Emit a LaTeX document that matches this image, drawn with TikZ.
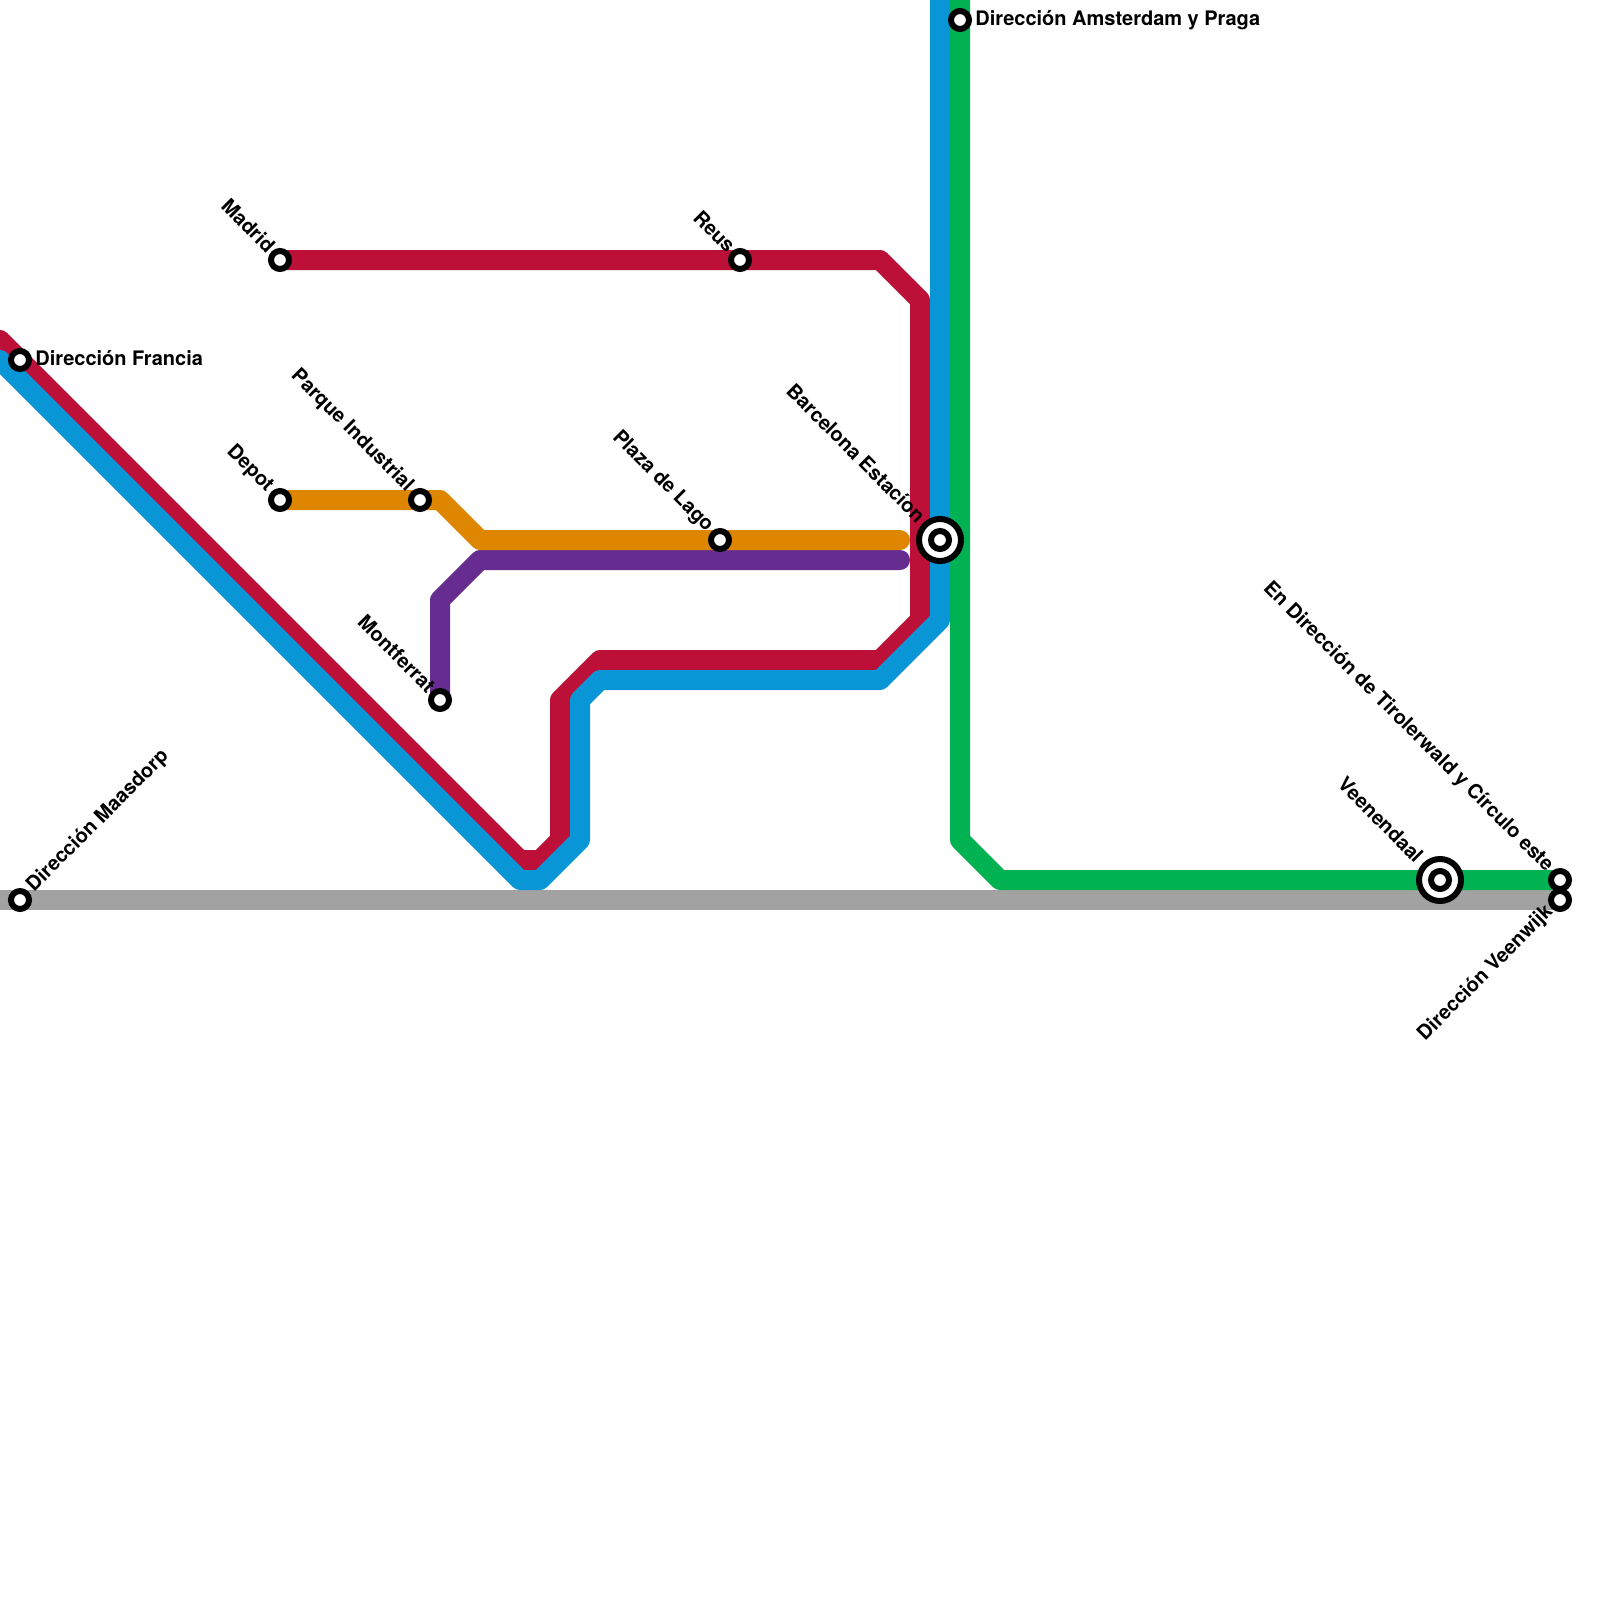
\documentclass[tikz,border=0pt]{standalone}
\usepackage{fontspec}
\setmainfont{TeX Gyre Heros}
\usetikzlibrary{backgrounds}
\definecolor{lred}{HTML}{BD1038}
\definecolor{lblue}{HTML}{0896D7}
\definecolor{lgreen}{HTML}{00B251}
\definecolor{lgrey}{HTML}{A2A2A2}
\definecolor{lorange}{HTML}{DF8600}
\definecolor{lpurple}{HTML}{662C90}
\tikzset{
  metro/.style={line width=10pt,line cap=round,line join=round},
  stop/.style={circle,draw=black,fill=white,line width=3pt,minimum size=9pt,inner sep=0pt},
  hubout/.style={circle,draw=black,fill=white,line width=3pt,minimum size=21pt,inner sep=0pt},
  lab/.style={inner sep=0pt,font=\fontsize{10}{12}\selectfont\bfseries},
  labnw/.style={lab,rotate=-45,anchor=east},
  labne/.style={lab,rotate=45,anchor=west},
  labsw/.style={lab,rotate=45,anchor=east},
  labe/.style={lab,anchor=west},
}
\begin{document}
\begin{tikzpicture}[x=0.5pt,y=-0.5pt]
\path[use as bounding box,clip] (0,0) rectangle (1600,1600);
% stations
\node[stop] (francia) at (20,360) {};
\node[stop] (maasdorp) at (20,900) {};
\node[stop] (madrid) at (280,260) {};
\node[stop] (depot) at (280,500) {};
\node[stop] (parque) at (420,500) {};
\node[stop] (montferrat) at (440,700) {};
\node[stop] (lago) at (720,540) {};
\node[stop] (reus) at (740,260) {};
\node[stop] (amsterdam) at (960,20) {};
\node[stop] (tirol) at (1560,880) {};
\node[stop] (veenwijk) at (1560,900) {};
\node[hubout] (barcelona) at (940,540) {};
\node[stop] (barcelonain) at (940,540) {};
\node[hubout] (veenendaal) at (1440,880) {};
\node[stop] (veenendaalin) at (1440,880) {};
% free ends and bends
\coordinate (r0) at (0,340);
\coordinate (r1) at (520,860);
\coordinate (r2) at (540,860);
\coordinate (r3) at (560,840);
\coordinate (r4) at (560,700);
\coordinate (r5) at (600,660);
\coordinate (r6) at (880,660);
\coordinate (r7) at (920,620);
\coordinate (r8) at (920,300);
\coordinate (r9) at (880,260);
\coordinate (b0) at (0,360);
\coordinate (b1) at (520,880);
\coordinate (b2) at (540,880);
\coordinate (b3) at (580,840);
\coordinate (b4) at (580,700);
\coordinate (b5) at (600,680);
\coordinate (b6) at (880,680);
\coordinate (b7) at (940,620);
\coordinate (b8) at (940,0);
\coordinate (g0) at (960,0);
\coordinate (g1) at (960,840);
\coordinate (g2) at (1000,880);
\coordinate (o1) at (440,500);
\coordinate (o2) at (480,540);
\coordinate (o3) at (900,540);
\coordinate (p1) at (440,600);
\coordinate (p2) at (480,560);
\coordinate (p3) at (900,560);
\coordinate (y0) at (0,900);
\begin{pgfonlayer}{background}
\draw[metro,lgrey] (y0) -- (maasdorp.center) -- (veenwijk.center);
\draw[metro,lgreen] (g0) -- (amsterdam.center) -- (g1) -- (g2) -- (veenendaal.center) -- (tirol.center);
\draw[metro,lred] (r0) -- (r1) -- (r2) -- (r3) -- (r4) -- (r5) -- (r6) -- (r7) -- (r8) -- (r9) -- (reus.center) -- (madrid.center);
\draw[metro,lblue] (b0) -- (b1) -- (b2) -- (b3) -- (b4) -- (b5) -- (b6) -- (b7) -- (barcelona.center) -- (b8);
\draw[metro,lpurple] (montferrat.center) -- (p1) -- (p2) -- (p3);
\draw[metro,lorange] (depot.center) -- (parque.center) -- (o1) -- (o2) -- (lago.center) -- (o3);
\end{pgfonlayer}
% labels
\node[labe] (tfrancia) at (35,358) {Dirección Francia};
\node[labe] (tamsterdam) at (975,20) {Dirección Amsterdam y Praga};
\node[labne] (tmaasdorp) at (30,889) {Dirección Maasdorp};
\node[labnw] (tmadrid) at (272,249) {Madrid};
\node[labnw] (tdepot) at (270,489) {Depot};
\node[labnw] (tparque) at (410,489) {Parque Industrial};
\node[labnw] (tmontferrat) at (432,689) {Montferrat};
\node[labnw] (tlago) at (710,529) {Plaza de Lago};
\node[labnw] (treus) at (732,249) {Reus};
\node[labnw] (tbarcelona) at (922,519) {Barcelona Estacíon};
\node[labnw] (tveenendaal) at (1420,859) {Veenendaal};
\node[labnw] (ttirol) at (1550,869) {En Dirección de Tirolerwald y Círculo este};
\node[labsw] (tveenwijk) at (1550,909) {Dirección Veenwijk};
\end{tikzpicture}
\end{document}
